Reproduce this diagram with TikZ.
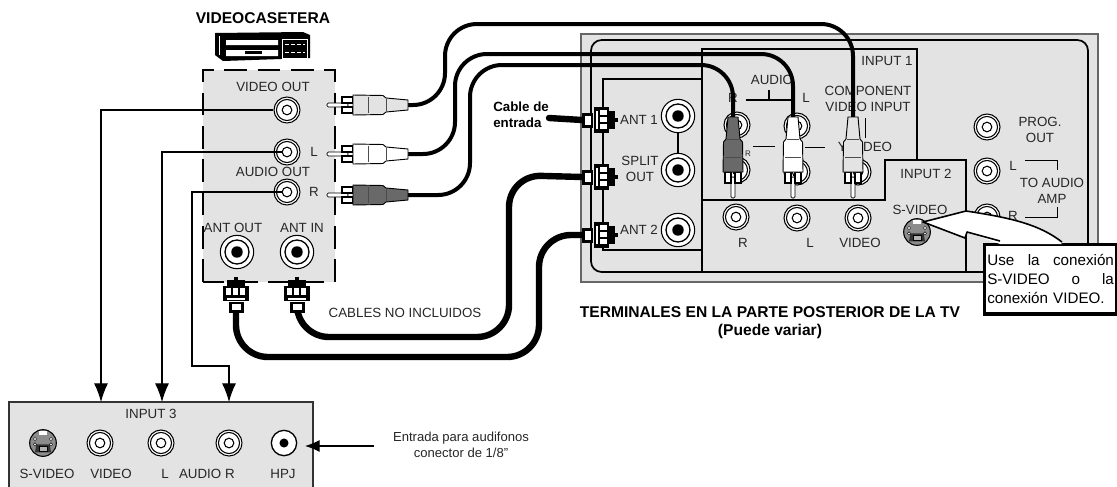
\documentclass[tikz,border=0pt]{standalone}
\usepackage{fontspec}
\setmainfont{Liberation Sans}
\usepackage{xcolor}
\usetikzlibrary{positioning, arrows.meta, calc}
\definecolor{panelgray}{RGB}{227,227,227}
\definecolor{plugdark}{RGB}{105,105,105}

\tikzset{
  lbl/.style={font=\fontsize{10}{12}\selectfont, inner sep=0pt, align=center, text=black!85},
  boldlbl/.style={font=\fontsize{11.7}{14}\selectfont\bfseries, inner sep=0pt, align=center},
  tinylbl/.style={font=\fontsize{9.8}{12}\selectfont, inner sep=0pt, align=center, text=black!85},
  jack/.style={circle, draw, line width=.8pt, fill=white, minimum size=19.5pt, inner sep=0pt,
    path picture={
      \draw[black, line width=.8pt] (path picture bounding box.center) circle (7.9pt);
      \draw[black, line width=.8pt] (path picture bounding box.center) circle (3.6pt);
    }},
  antjack/.style={circle, draw, line width=.8pt, fill=white, minimum size=25pt, inner sep=0pt,
    path picture={
      \draw[black, line width=1pt] (path picture bounding box.center) circle (9pt);
      \fill[black] (path picture bounding box.center) circle (4.3pt);
    }},
  hpjack/.style={circle, draw, line width=1pt, fill=white, minimum size=19pt, inner sep=0pt,
    path picture={\fill[black] (path picture bounding box.center) circle (3.4pt);}},
  svideojack/.style={circle, draw, line width=.8pt, fill=black!45, minimum size=20pt, inner sep=0pt,
    path picture={
      \fill[white] ($(path picture bounding box.center)+(-3pt,6pt)$) rectangle ++(6pt,3pt);
      \fill[black!80] ($(path picture bounding box.center)+(-5pt,-1pt)$) -- ++(10pt,0) -- ++(1pt,-6pt) -- ++(-12pt,0) -- cycle;
      \draw[black, fill=black!30, line width=.4pt] ($(path picture bounding box.center)+(-3pt,-6pt)$) rectangle ++(6pt,3.5pt);
      \foreach \dx/\dy in {-6/3,6/3,-6/-1,6/-1}
        \draw[black, fill=white, line width=.3pt] ($(path picture bounding box.center)+(\dx pt,\dy pt)$) circle (1.2pt);
    }},
  rcacable/.style={line width=3pt, rounded corners=24pt},
  antcable/.style={line width=4.8pt, rounded corners=24pt},
  sigarr/.style={-{Latex[length=14pt,width=10.5pt]}, line width=.8pt},
  pics/rcaplug/.style={code={
    \draw[line width=.5pt, fill=white, rounded corners=1pt] (-81,-2) rectangle (-60,2);
    \draw[line width=.8pt, fill=white] (-66,-8) rectangle (-55,-2);
    \draw[line width=.8pt, fill=white] (-66,2) rectangle (-55,8);
    \draw[line width=.7pt, fill=#1] (0,-5) -- (-22,-7) -- (-25,-9.5) -- (-55,-10) -- (-55,10) -- (-25,9.5) -- (-22,7) -- (0,5) -- cycle;
    \draw[line width=.7pt, black!70] (-40,-8) -- (-40,8) (-22,-6) -- (-22,6);
  }},
  pics/fplug/.style={code={
    \fill (0,-7.5) rectangle (11,7.5);
    \fill[white] (3,-4.5) rectangle (9,4.5);
    \fill (12,-13) rectangle (27,13);
    \fill[white] (13.5,-9) rectangle (15.5,9);
    \foreach \cy in {-10,-3,4} \fill[white] (18,\cy) rectangle (25,\cy+5);
    \fill (27,-9) rectangle (33,9);
    \fill (33,-2) rectangle (36,2);
  }}
}

\begin{document}
\begin{tikzpicture}[x=.75pt, y=-.75pt]
  \useasboundingbox (0,0) rectangle (1117,486);

  % videocasetera
  \node[boldlbl] (vcrtitle) at (263,18) {VIDEOCASETERA};
  \fill (215,33) -- (303,32) -- (310,35) -- (310,58) -- (223,61) -- (215,55) -- cycle;
  \fill[white] (226,40) rectangle (278,45) (226,50) rectangle (278,56);
  \fill (245,51) rectangle (262,54);
  \draw[white, line width=.5pt] (219,36) -- (219,55) (282,39) rectangle (307,58);
  \draw[white, line width=.5pt, dash pattern=on 3pt off 1.5pt] (285,44) -- (305,44) (285,52) -- (305,52);
  \fill[panelgray] (203,70) rectangle (335,282);
  \draw[line width=.9pt, dash pattern=on 17pt off 8pt] (203,282) -- (203,70) -- (335,70) -- (335,282) -- (203,282);

  % tv panel
  \draw[black!60, line width=.8pt, fill=panelgray] (581,34) rectangle (1098,282);
  \draw[line width=1.3pt, rounded corners=8pt] (591,40) rectangle (1088,272);
  \draw[line width=1.3pt] (702,272) -- (702,49) -- (917,49) -- (917,160);
  \draw[line width=1.3pt] (702,200) -- (885,200) -- (885,160) -- (966,160) -- (966,272);
  \draw[line width=1.3pt] (702,79) -- (603,79) -- (603,250) -- (702,250);
  \draw[line width=1.3pt] (678,116) -- (678,170);

  % jacks
  \node[jack] (vcrvideo) at (287,110) {};
  \node[jack] (vcrl) at (287,152) {};
  \node[jack] (vcrr) at (287,192) {};
  \node[antjack] (antout) at (237,252) {};
  \node[antjack] (antin) at (297,252) {};
  \node[antjack] (ant1) at (678,116) {};
  \node[antjack] (split) at (678,170) {};
  \node[antjack] (ant2) at (678,230) {};
  \foreach \nm/\px/\py in {compra/737/125, compla/797/126,
                           comprb/737/170, complb/797/172, compvb/858/172,
                           lowr/736/217, lowl/797/218, lowv/858/218,
                           prog/987/127, ampl/987/171, ampr/987/217}
    \node[jack] (\nm) at (\px,\py) {};
  \node[svideojack] (sfront) at (917,232) {};
  \draw[line width=.7pt] (865,118) -- (865,138);

  % input 3
  \draw[line width=.8pt, black!80, fill=panelgray] (9,402) rectangle (313,490);
  \node[jack] (in3v) at (100,443) {};
  \node[jack] (in3l) at (161,443) {};
  \node[jack] (in3r) at (229,443) {};
  \node[svideojack] (in3s) at (43,443) {};
  \node[hpjack] (in3hpj) at (284,443) {};

  % texts
  \node[lbl] (lvideoout) at (273,87) {VIDEO OUT};
  \node[lbl] (ll) at (314,152) {L};
  \node[lbl] (laudioout) at (273,172) {AUDIO OUT};
  \node[lbl] (lr) at (314,192) {R};
  \node[lbl] (lantout) at (233,228) {ANT OUT};
  \node[lbl] (lantin) at (302,228) {ANT IN};
  \node[lbl] (lant1) at (639,120) {ANT 1};
  \node[lbl] (lsplit) at (640,169) {SPLIT\\OUT};
  \node[lbl] (lant2) at (639,230) {ANT 2};
  \node[lbl] (linone) at (887,61) {INPUT 1};
  \node[lbl] (lcomp) at (868,99) {COMPONENT\\VIDEO INPUT};
  \node[lbl] (laudio) at (772,80) {AUDIO};
  \draw[line width=.8pt] (746,100) -- (793,100) (769,90) -- (769,100);
  \node[lbl] (lcr) at (733,98) {R};
  \node[lbl] (lcl) at (806,98) {L};
  \node[lbl, font=\fontsize{6}{7}\selectfont] (lcsmall) at (748,154) {R};
  \draw[line width=.7pt] (753,146) -- (775,146) (805,147) -- (825,147);
  \node[lbl] (lyvideo) at (865,147) {Y VIDEO};
  \node[lbl] (lowrlbl) at (743,243) {R};
  \node[lbl] (lowllbl) at (810,243) {L};
  \node[lbl] (lowvlbl) at (860,243) {VIDEO};
  \node[lbl] (lintwo) at (926,174) {INPUT 2};
  \node[lbl] (lsvid) at (920,210) {S-VIDEO};
  \node[lbl] (lprog) at (1040,130) {PROG.\\OUT};
  \node[lbl] (lampl) at (1013,166) {L};
  \node[lbl] (lampr) at (1013,216) {R};
  \node[lbl] (lamp) at (1052,191) {TO AUDIO\\AMP};
  \draw[line width=.7pt] (1025,160) -- (1057,160) -- (1057,170);
  \draw[line width=.7pt] (1025,217) -- (1057,217) -- (1057,207);
  \node[boldlbl, font=\fontsize{10}{12}\selectfont\bfseries, align=left, anchor=west] (lentrada) at (493,115) {Cable de\\entrada};
  \node[lbl] (lcables) at (405,313) {CABLES NO INCLUIDOS};
  \node[boldlbl] (lterm) at (770,322.5) {TERMINALES EN LA PARTE POSTERIOR DE LA TV\\(Puede variar)};
  \node[lbl] (lin3) at (151,414) {INPUT 3};
  \node[lbl] (l3s) at (47,474) {S-VIDEO};
  \node[lbl] (l3v) at (111,474) {VIDEO};
  \node[lbl] (l3a) at (198,474) {L\hspace{.5em} AUDIO R};
  \node[lbl] (l3h) at (283,474) {HPJ};
  \node[tinylbl] (lhpj) at (461,445) {Entrada para audifonos\\conector de 1/8"};

  % cable ends
  \coordinate (plugv) at (408,105);
  \coordinate (plugl) at (408,154);
  \coordinate (plugr) at (408,195);
  \coordinate (tvr) at (733,117);
  \coordinate (tvl) at (793,117);
  \coordinate (tvv) at (853,117);
  \coordinate (fone) at (582,120);
  \coordinate (fsplit) at (582,177);
  \coordinate (ftwo) at (582,235);
  \coordinate (fout) at (236,313);
  \coordinate (fin) at (297,313);
  \coordinate (entrada) at (549,118);

  % cables
  \draw[rcacable] (plugv) -- (445,105) -- (445,24) -- (853,24) -- (tvv);
  \draw[rcacable] (plugl) -- (455,154) -- (455,54) -- (793,54) -- (tvl);
  \draw[rcacable] (plugr) -- (470,195) -- (470,65) -- (733,65) -- (tvr);
  \draw[antcable, line cap=round] (entrada) -- (fone);
  \draw[antcable] (fin) -- (297,337) -- (509,337) -- (509,175) -- (fsplit);
  \draw[antcable] (fout) -- (236,357) -- (539,357) -- (539,235) -- (ftwo);

  % plugs
  \pic at (plugv) {rcaplug=panelgray};
  \pic at (plugl) {rcaplug=white};
  \pic at (plugr) {rcaplug=plugdark};
  \pic[rotate=90] at (tvr) {rcaplug=plugdark};
  \pic[rotate=90] at (tvl) {rcaplug=white};
  \pic[rotate=90] at (tvv) {rcaplug=panelgray};
  \pic at (fone) {fplug};
  \pic at (fsplit) {fplug};
  \pic at (ftwo) {fplug};
  \pic[rotate=90] at (fout) {fplug};
  \pic[rotate=90] at (fin) {fplug};

  % signal lines
  \coordinate (arrv) at (101,402);
  \coordinate (arrl) at (162,402);
  \coordinate (arrr) at (229,402);
  \coordinate (hpjfrom) at (374,446);
  \coordinate (hpjto) at (305,446);
  \draw[sigarr] (vcrvideo.west) -| (arrv);
  \draw[sigarr] ([xshift=-3pt]vcrl.center) -| (arrl);
  \draw[sigarr] ([xshift=-3pt]vcrr.center) -- (192,192) -- (192,366) -- (229,366) -- (arrr);
  \draw[sigarr, -{Latex[length=11pt,width=9pt]}] (hpjfrom) -- (hpjto);

  % note
  \node[draw, line width=2.4pt, fill=white, minimum width=99pt, minimum height=52pt, text width=95pt,
        inner sep=1.2pt, font=\fontsize{11.4}{14.3}\selectfont, align=left, anchor=north west] (note) at (983,243)
    {Use\hfill la\hfill conexión\\S-VIDEO\hfill o\hfill la\\conexión VIDEO.};
  \fill[white] (923,222) -- (966,211) .. controls (1013,218) and (1040,225) .. (1062,244) -- (1000,244) -- (967,232) -- (965,238) -- cycle;
  \draw[line width=1.2pt, line join=round] (1062,242) .. controls (1040,225) and (1013,218) .. (966,211) -- (923,222) -- (965,238) -- (967,232) -- (1000,241);
\end{tikzpicture}
\end{document}
